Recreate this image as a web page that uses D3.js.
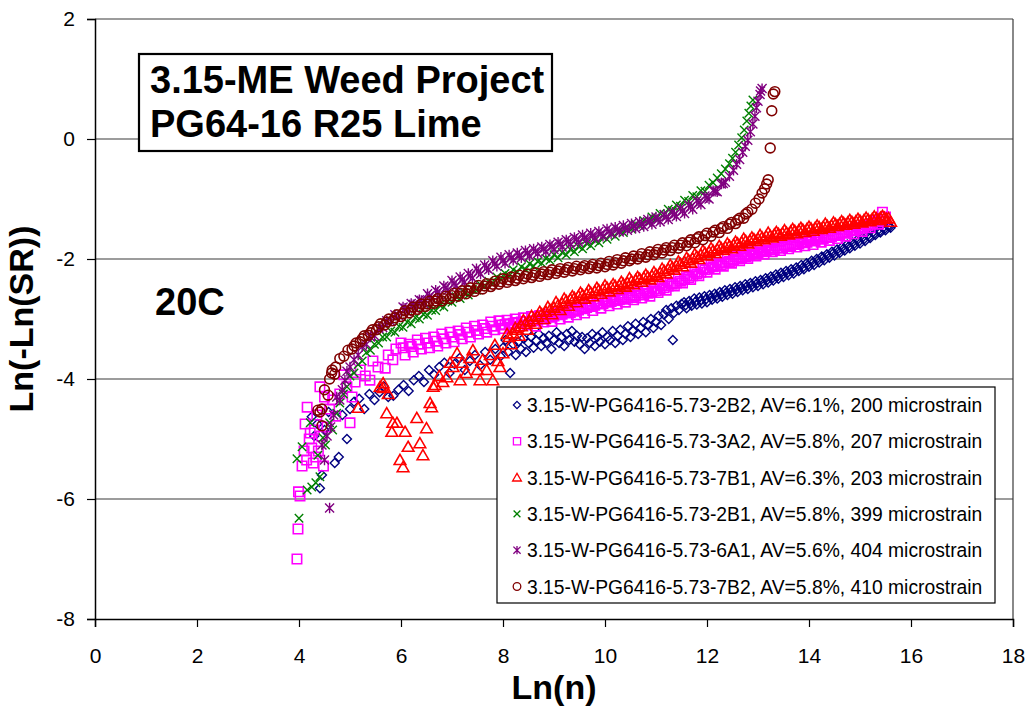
<!DOCTYPE html>
<html><head><meta charset="utf-8">
<script src="https://cdn.jsdelivr.net/npm/d3@7"></script>
<style>body{margin:0;background:#fff} text{font-family:Arial,"Liberation Sans",sans-serif;fill:#000}</style>
</head><body><svg id="c" width="1030" height="711"></svg>
<script>
const xTicks=[0,2,4,6,8,10,12,14,16,18];
const yTicks=[-8,-6,-4,-2,0,2];
const titleLines=["3.15-ME Weed Project","PG64-16 R25 Lime"];
const tempLabel="20C";
const xTitle="Ln(n)", yTitle="Ln(-Ln(SR))";
const seriesNames=[
"3.15-W-PG6416-5.73-2B2, AV=6.1%, 200 microstrain",
"3.15-W-PG6416-5.73-3A2, AV=5.8%, 207 microstrain",
"3.15-W-PG6416-5.73-7B1, AV=6.3%, 203 microstrain",
"3.15-W-PG6416-5.73-2B1, AV=5.8%, 399 microstrain",
"3.15-W-PG6416-5.73-6A1, AV=5.6%, 404 microstrain",
"3.15-W-PG6416-5.73-7B2, AV=5.8%, 410 microstrain"];

const s2B2=[[4.41,-5.82],[4.45,-5.6],[4.3,-4.95],[4.25,-4.63],[4.36,-4.75],[4.5,-4.85],[4.58,-4.55],[4.7,-5.4],[4.78,-5.3],[4.85,-4.6],[4.94,-5.0],[5.0,-4.5],[5.08,-4.38],[5.18,-4.33],[5.28,-4.5],[5.38,-4.25],[5.48,-4.35],[5.58,-4.22],[5.66,-4.12],[5.75,-4.3],[5.85,-4.28],[5.95,-4.18],[6.05,-4.1],[6.15,-4.2],[6.25,-4.02],[6.35,-3.95],[6.45,-4.05],[6.55,-3.85],[6.65,-3.93],[6.75,-3.8],[6.85,-3.73],[6.95,-3.9],[7.05,-3.75],[7.15,-3.65],[7.25,-3.85],[7.35,-3.7],[7.45,-3.6],[7.55,-3.77],[7.65,-3.55],[7.75,-3.68],[7.85,-3.5],[7.95,-3.62],
[8.0,-3.48],[8.05,-3.35],[8.1,-3.55],[8.14,-3.9],[8.2,-3.42],[8.25,-3.6],[8.3,-3.38],[8.35,-3.5],[8.4,-3.32],[8.45,-3.55],[8.5,-3.4],[8.55,-3.3],[8.6,-3.48],[8.65,-3.36],[8.7,-3.25],[8.75,-3.45],[8.8,-3.32],[8.85,-3.4],[8.9,-3.28],[8.95,-3.5],[9.0,-3.35],[9.05,-3.22],[9.1,-3.4],[9.15,-3.3],[9.2,-3.45],[9.25,-3.25],[9.3,-3.35],[9.35,-3.2],[9.4,-3.38],[9.45,-3.28],[9.5,-3.42],[9.55,-3.3],[9.6,-3.5],[9.65,-3.32],[9.7,-3.4],[9.75,-3.25],[9.8,-3.45],[9.85,-3.3],[9.9,-3.38],[9.95,-3.22],[10.0,-3.42],[10.05,-3.3],[10.1,-3.35],[10.15,-3.2],[10.2,-3.4],[10.25,-3.28],[10.3,-3.18],[10.35,-3.35],[10.4,-3.25],[10.45,-3.12],[10.5,-3.3],[10.55,-3.2],[10.6,-3.08],[10.65,-3.25],[10.7,-3.15],[10.75,-3.05],[10.8,-3.22],[10.85,-3.1],[10.9,-3.0],[10.95,-3.15],[11.0,-3.05],[11.05,-2.95],[11.1,-3.1],[11.15,-2.92],[11.2,-2.85],[11.25,-3.0],[11.33,-3.35],[11.3,-2.82],[11.35,-2.9],[11.4,-2.78],[11.45,-2.85],[11.5,-2.75],
[11.55,-2.72],[11.6,-2.82],[11.65,-2.7],[11.7,-2.78],[11.75,-2.66],[11.8,-2.76],[11.85,-2.64],[11.9,-2.74],[11.95,-2.62],[12.0,-2.72],[12.05,-2.6],[12.1,-2.68],[12.15,-2.58],[12.2,-2.66],[12.25,-2.55],[12.3,-2.63],[12.35,-2.52],[12.4,-2.6],[12.45,-2.5],[12.5,-2.58],[12.55,-2.47],[12.6,-2.55],[12.65,-2.45],[12.7,-2.52],[12.75,-2.42],[12.8,-2.5],[12.85,-2.4],[12.9,-2.47],[12.95,-2.37],[13.0,-2.45],[13.05,-2.35],[13.1,-2.42],[13.15,-2.32],[13.2,-2.39],[13.25,-2.29],[13.3,-2.36],[13.35,-2.26],[13.4,-2.33],[13.45,-2.23],[13.5,-2.3],[13.55,-2.2],[13.6,-2.27],[13.65,-2.17],[13.7,-2.24],[13.75,-2.14],[13.8,-2.2],[13.85,-2.1],[13.9,-2.17],[13.95,-2.07],[14.0,-2.13],[14.05,-2.03],[14.1,-2.1],[14.15,-2.0],[14.2,-2.06],[14.25,-1.96],[14.3,-2.02],[14.35,-1.92],[14.4,-1.98],[14.45,-1.88],[14.5,-1.94],[14.55,-1.84],[14.6,-1.9],[14.65,-1.8],[14.7,-1.86],[14.75,-1.76],[14.8,-1.82],[14.85,-1.72],[14.9,-1.78],[14.95,-1.68],[15.0,-1.74],[15.05,-1.64],[15.1,-1.7],[15.15,-1.6],[15.2,-1.65],[15.25,-1.56],[15.3,-1.6],[15.35,-1.52],[15.4,-1.56],[15.45,-1.48],[15.5,-1.52],[15.55,-1.45],[15.6,-1.48],
[11.58,-2.77],[11.68,-2.74],[11.78,-2.71],[11.88,-2.69],[11.98,-2.67],[12.08,-2.64],[12.18,-2.62],[12.28,-2.59],[12.38,-2.56],[12.48,-2.54],[12.58,-2.51],[12.68,-2.48],[12.78,-2.46],[12.88,-2.43],[12.98,-2.41],[13.08,-2.38],[13.18,-2.35],[13.28,-2.32],[13.38,-2.29],[13.48,-2.26],[13.58,-2.23],[13.68,-2.2],[13.78,-2.17],[13.88,-2.14],[13.98,-2.1],[14.08,-2.06],[14.18,-2.02],[14.28,-1.98],[14.38,-1.94],[14.48,-1.9],[14.58,-1.87],[14.68,-1.83],[14.78,-1.79],[14.88,-1.75],[14.98,-1.71],[15.08,-1.67],[15.18,-1.63],[15.28,-1.58],[15.38,-1.54],[15.48,-1.5],[15.58,-1.46]];

const s3A2=[[3.96,-7.0],[3.98,-6.5],[3.99,-5.88],[4.02,-5.95],[4.06,-5.45],[4.1,-5.2],[4.12,-4.75],[4.15,-5.35],[4.16,-4.47],[4.2,-5.0],[4.22,-4.9],[4.25,-5.15],[4.28,-5.4],[4.3,-4.85],[4.33,-5.3],[4.35,-4.6],[4.38,-5.2],[4.41,-4.13],[4.44,-4.95],[4.48,-5.45],[4.5,-4.3],[4.55,-4.8],[4.6,-4.5],[4.66,-4.35],[4.72,-4.62],[4.8,-4.25],[4.88,-3.93],[4.94,-4.13],[5.0,-4.73],[5.04,-4.3],[5.1,-4.05],[5.2,-3.85],[5.3,-3.95],[5.39,-4.02],[5.45,-3.7],[5.55,-3.8],[5.69,-3.82],[5.75,-3.6],[5.84,-3.68],[5.9,-3.5],
[6.0,-3.4],[6.08,-3.6],[6.16,-3.42],[6.24,-3.55],[6.32,-3.35],[6.4,-3.5],[6.48,-3.32],[6.56,-3.48],[6.64,-3.3],[6.72,-3.45],[6.8,-3.25],[6.88,-3.4],[6.96,-3.22],[7.04,-3.38],[7.12,-3.2],[7.2,-3.33],[7.28,-3.15],[7.36,-3.3],[7.44,-3.12],[7.52,-3.25],[7.6,-3.1],[7.68,-3.22],[7.76,-3.05],[7.84,-3.18],[7.92,-3.03],[8.0,-3.16],[8.08,-3.02],[8.16,-3.14],[8.24,-3.0],[8.32,-3.12],[8.4,-2.98],[8.48,-3.1],[8.56,-2.96],[8.64,-3.12],[8.72,-2.94],[8.8,-3.05],[8.88,-2.92],[8.96,-3.04],[9.04,-2.9],[9.12,-3.0],[9.2,-2.87],[9.28,-2.97],[9.36,-2.84],[9.44,-2.93],[9.52,-2.8],[9.6,-2.9],[9.68,-2.77],[9.76,-2.86],[9.84,-2.74],[9.92,-2.82],[10.0,-2.69],[10.08,-2.78],[10.16,-2.66],[10.24,-2.75],[10.32,-2.63],[10.4,-2.72],[10.48,-2.6],[10.56,-2.68],[10.64,-2.56],[10.72,-2.65],[10.8,-2.53],[10.88,-2.62],[10.96,-2.5],[11.04,-2.56],[11.12,-2.44],[11.2,-2.52],[11.28,-2.4],[11.36,-2.45],[11.44,-2.33],[11.52,-2.4],[11.6,-2.28],[11.68,-2.34],[11.76,-2.22],[11.84,-2.28],[11.92,-2.16],[12.0,-2.22],[12.08,-2.1],[12.16,-2.17],[12.24,-2.06],[12.32,-2.12],[12.4,-2.0],[12.48,-2.07],[12.56,-1.96],[12.64,-2.03],[12.72,-1.92],[12.8,-1.99],[12.88,-1.88],[12.96,-1.95],[13.04,-1.85],[13.12,-1.92],[13.2,-1.82],[13.28,-1.88],[13.36,-1.78],[13.44,-1.86],[13.52,-1.76],[13.6,-1.83],[13.68,-1.74],[13.76,-1.8],[13.84,-1.71],[13.92,-1.78],[14.0,-1.68],[14.08,-1.76],[14.16,-1.66],[14.24,-1.72],[14.32,-1.63],[14.4,-1.69],[14.48,-1.59],[14.56,-1.66],[14.64,-1.56],[14.72,-1.62],[14.8,-1.52],[14.88,-1.58],[14.96,-1.47],[15.04,-1.54],[15.12,-1.43],[15.2,-1.48],[15.28,-1.36],[15.36,-1.42],[15.44,-1.22],[15.5,-1.3],[15.47,-1.38],
[6.04,-3.48],[6.2,-3.46],[6.36,-3.42],[6.52,-3.4],[6.68,-3.37],[6.84,-3.33],[7.0,-3.3],[7.16,-3.26],[7.32,-3.22],[7.48,-3.19],[7.64,-3.16],[7.8,-3.12],[7.96,-3.1],[8.04,-3.09],[8.12,-3.08],[8.2,-3.07],[8.28,-3.06],[8.36,-3.05],[8.44,-3.04],[8.52,-3.04],[8.6,-3.03],[8.68,-3.02],[8.76,-3.0],[8.84,-2.99],[8.92,-2.97],[9.0,-2.95],[9.08,-2.93],[9.16,-2.92],[9.24,-2.9],[9.32,-2.89],[9.4,-2.87],[9.48,-2.85],[9.56,-2.83],[9.64,-2.81],[9.72,-2.79],[9.8,-2.77],[9.88,-2.75],[9.96,-2.74],[10.04,-2.72],[10.12,-2.71],[10.2,-2.69],[10.28,-2.68],[10.36,-2.67],[10.44,-2.65],[10.52,-2.64],[10.6,-2.62],[10.68,-2.6],[10.76,-2.59],[10.84,-2.57],[10.92,-2.55],[11.0,-2.53],[11.08,-2.5],[11.16,-2.48],[11.24,-2.45],[11.32,-2.42],[11.4,-2.4],[11.48,-2.37],[11.56,-2.34],[11.64,-2.31],[11.72,-2.28],[11.8,-2.25],[11.88,-2.22],[11.96,-2.18],[12.04,-2.15],[12.12,-2.13],[12.2,-2.11],[12.28,-2.09],[12.36,-2.06],[12.44,-2.04],[12.52,-2.02],[12.6,-2.0],[12.68,-1.98],[12.76,-1.96],[12.84,-1.94],[12.92,-1.92],[13.0,-1.9],[13.08,-1.88],[13.16,-1.87],[13.24,-1.85],[13.32,-1.84],[13.4,-1.82],[13.48,-1.81],[13.56,-1.79],[13.64,-1.78],[13.72,-1.76],[13.8,-1.75],[13.88,-1.73],[13.96,-1.72],[14.04,-1.7],[14.12,-1.69],[14.2,-1.67],[14.28,-1.66],[14.36,-1.64],[14.44,-1.63],[14.52,-1.61],[14.6,-1.59],[14.68,-1.57],[14.76,-1.55],[14.84,-1.53],[14.92,-1.51],[15.0,-1.5],[15.08,-1.47],[15.16,-1.44],[15.24,-1.41],[15.32,-1.38],[15.4,-1.34]];

const s7B1=[[5.16,-4.48],[5.59,-4.13],[5.65,-4.07],[5.65,-4.15],[5.72,-4.57],[5.75,-4.25],[5.82,-4.88],[5.84,-4.73],[5.92,-4.73],[5.98,-5.35],[6.04,-5.47],[6.08,-4.88],[6.14,-5.13],[6.31,-4.65],[6.37,-5.07],[6.43,-5.27],[6.5,-4.82],[6.57,-4.4],[6.6,-4.47],[6.63,-4.13],[6.67,-4.1],[6.75,-3.95],[6.82,-4.05],[6.9,-3.97],[6.96,-3.73],[7.02,-3.8],[7.1,-3.57],[7.16,-4.02],[7.2,-3.73],[7.28,-3.9],[7.35,-3.65],[7.41,-3.52],[7.5,-3.85],[7.55,-4.02],[7.6,-3.68],[7.68,-3.85],[7.75,-3.6],[7.8,-4.02],[7.84,-3.43],[7.9,-3.7],[7.94,-3.8],[8.0,-3.57],
[8.08,-3.25],[8.16,-3.42],[8.24,-3.15],[8.32,-3.28],[8.4,-3.02],[8.48,-3.18],[8.56,-2.95],[8.64,-3.08],[8.72,-2.88],[8.8,-3.0],[8.88,-2.8],[8.96,-2.92],[9.04,-2.72],[9.12,-2.85],[9.2,-2.66],[9.28,-2.78],[9.36,-2.62],[9.44,-2.72],[9.52,-2.56],[9.6,-2.66],[9.68,-2.52],[9.76,-2.62],[9.84,-2.48],[9.92,-2.58],[10.0,-2.44],[10.08,-2.54],[10.16,-2.42],[10.24,-2.5],[10.32,-2.38],[10.4,-2.46],[10.48,-2.32],[10.56,-2.42],[10.64,-2.3],[10.72,-2.38],[10.8,-2.26],[10.88,-2.34],[10.96,-2.22],[11.04,-2.3],[11.12,-2.16],[11.2,-2.24],[11.28,-2.1],[11.36,-2.18],[11.44,-2.04],[11.52,-2.12],[11.6,-1.98],[11.68,-2.06],[11.76,-1.92],[11.84,-2.0],[11.92,-1.86],[12.0,-1.94],[12.08,-1.82],[12.16,-1.9],[12.24,-1.78],[12.32,-1.85],[12.4,-1.74],[12.48,-1.82],[12.56,-1.71],[12.64,-1.78],[12.72,-1.66],[12.8,-1.74],[12.88,-1.64],[12.96,-1.7],[13.04,-1.6],[13.12,-1.67],[13.2,-1.56],[13.28,-1.64],[13.36,-1.55],[13.44,-1.61],[13.52,-1.52],[13.6,-1.59],[13.68,-1.5],[13.76,-1.57],[13.84,-1.48],[13.92,-1.55],[14.0,-1.46],[14.08,-1.53],[14.16,-1.44],[14.24,-1.5],[14.32,-1.41],[14.4,-1.48],[14.48,-1.39],[14.56,-1.45],[14.64,-1.37],[14.72,-1.43],[14.8,-1.35],[14.88,-1.41],[14.96,-1.33],[15.04,-1.39],[15.12,-1.31],[15.2,-1.37],[15.28,-1.29],[15.36,-1.35],[15.44,-1.28],[15.52,-1.33],[15.6,-1.38],
[8.12,-3.3],[8.2,-3.24],[8.28,-3.18],[8.36,-3.12],[8.44,-3.08],[8.52,-3.04],[8.6,-3.0],[8.68,-2.96],[8.76,-2.92],[8.84,-2.88],[8.92,-2.85],[9.0,-2.81],[9.08,-2.77],[9.16,-2.74],[9.24,-2.7],[9.32,-2.67],[9.4,-2.65],[9.48,-2.62],[9.56,-2.6],[9.64,-2.58],[9.72,-2.56],[9.8,-2.54],[9.88,-2.52],[9.96,-2.5],[10.04,-2.48],[10.12,-2.47],[10.2,-2.45],[10.28,-2.44],[10.36,-2.42],[10.44,-2.4],[10.52,-2.37],[10.6,-2.35],[10.68,-2.33],[10.76,-2.31],[10.84,-2.3],[10.92,-2.28],[11.0,-2.26],[11.08,-2.23],[11.16,-2.2],[11.24,-2.17],[11.32,-2.14],[11.4,-2.11],[11.48,-2.08],[11.56,-2.05],[11.64,-2.02],[11.72,-1.99],[11.8,-1.96],[11.88,-1.93],[11.96,-1.9],[12.04,-1.88],[12.12,-1.86],[12.2,-1.84],[12.28,-1.82],[12.36,-1.8],[12.44,-1.78],[12.52,-1.76],[12.6,-1.74],[12.68,-1.72],[12.76,-1.7],[12.84,-1.69],[12.92,-1.67],[13.0,-1.66],[13.08,-1.64],[13.16,-1.62],[13.24,-1.61],[13.32,-1.59],[13.4,-1.58],[13.48,-1.57],[13.56,-1.56],[13.64,-1.54],[13.72,-1.53],[13.8,-1.52],[13.88,-1.51],[13.96,-1.5],[14.04,-1.49],[14.12,-1.48],[14.2,-1.47],[14.28,-1.46],[14.36,-1.45],[14.44,-1.44],[14.52,-1.42],[14.6,-1.41],[14.68,-1.4],[14.76,-1.39],[14.84,-1.38],[14.92,-1.37],[15.0,-1.36],[15.08,-1.35],[15.16,-1.34],[15.24,-1.33],[15.32,-1.32],[15.4,-1.31],[15.48,-1.31],[15.56,-1.32]];

const s2B1=[[3.96,-5.33],[4.0,-6.32],[4.06,-5.13],[4.16,-5.85],[4.22,-4.73],[4.25,-5.8],[4.33,-5.73],[4.37,-5.27],[4.41,-5.63],[4.47,-4.98],[4.52,-5.1],[4.6,-4.73],[4.66,-4.85],[4.74,-4.57],[4.8,-4.4],[4.87,-4.25],[4.94,-4.13],
[5.0,-3.95],[5.08,-3.9],[5.16,-3.76],[5.24,-3.7],[5.32,-3.56],[5.4,-3.52],[5.48,-3.42],[5.56,-3.4],[5.64,-3.3],[5.72,-3.3],[5.8,-3.2],[5.88,-3.22],[5.96,-3.12],[6.04,-3.14],[6.12,-3.05],[6.2,-3.08],[6.28,-2.98],[6.36,-3.0],[6.44,-2.92],[6.52,-2.94],[6.6,-2.85],[6.68,-2.86],[6.76,-2.77],[6.84,-2.8],[6.92,-2.7],[7.0,-2.72],[7.08,-2.63],[7.16,-2.66],[7.24,-2.56],[7.32,-2.6],[7.4,-2.5],[7.48,-2.52],[7.56,-2.43],[7.64,-2.46],[7.72,-2.37],[7.8,-2.4],[7.88,-2.3],[7.96,-2.34],[8.04,-2.24],[8.12,-2.28],[8.2,-2.18],[8.28,-2.22],[8.36,-2.13],[8.44,-2.17],[8.52,-2.08],[8.6,-2.12],[8.68,-2.04],[8.76,-2.07],[8.84,-1.99],[8.92,-2.02],[9.0,-1.93],[9.08,-1.98],[9.16,-1.89],[9.24,-1.93],[9.32,-1.84],[9.4,-1.88],[9.48,-1.79],[9.56,-1.83],[9.64,-1.74],[9.72,-1.78],[9.8,-1.69],[9.88,-1.73],[9.96,-1.63],[10.04,-1.67],[10.12,-1.58],[10.2,-1.62],[10.28,-1.53],[10.36,-1.56],[10.44,-1.47],[10.52,-1.5],[10.6,-1.42],[10.68,-1.45],[10.76,-1.36],[10.84,-1.39],[10.92,-1.3],[11.0,-1.33],[11.08,-1.24],[11.16,-1.26],[11.24,-1.17],[11.32,-1.19],[11.4,-1.1],[11.48,-1.12],[11.56,-1.02],[11.64,-1.04],[11.72,-0.94],[11.8,-0.96],[11.88,-0.86],[11.96,-0.87],[12.04,-0.77],[12.12,-0.73],[12.2,-0.65],[12.28,-0.58],[12.36,-0.5],[12.44,-0.41],[12.5,-0.32],[12.56,-0.22],[12.62,-0.1],[12.68,0.02],[12.73,0.15],[12.78,0.3],[12.82,0.43],[12.86,0.55],[12.9,0.65]];

const s6A1=[[4.6,-6.15],[4.5,-5.35],[4.45,-5.1],[4.55,-4.95],[4.62,-4.8],[4.68,-4.6],[4.74,-4.3],[4.8,-4.35],[4.85,-4.18],[4.9,-4.02],[4.94,-3.87],
[5.0,-3.8],[5.08,-3.68],[5.16,-3.6],[5.24,-3.46],[5.32,-3.42],[5.4,-3.3],[5.48,-3.28],[5.56,-3.16],[5.64,-3.14],[5.72,-3.03],[5.8,-3.04],[5.88,-2.93],[5.96,-2.95],[6.04,-2.8],[6.12,-2.88],[6.2,-2.74],[6.28,-2.82],[6.36,-2.68],[6.44,-2.74],[6.52,-2.58],[6.6,-2.66],[6.68,-2.52],[6.76,-2.6],[6.84,-2.45],[6.92,-2.52],[7.0,-2.36],[7.08,-2.45],[7.16,-2.3],[7.24,-2.39],[7.32,-2.24],[7.4,-2.32],[7.48,-2.16],[7.56,-2.25],[7.64,-2.1],[7.72,-2.18],[7.8,-2.03],[7.88,-2.12],[7.96,-1.97],[8.04,-2.07],[8.12,-1.93],[8.2,-2.02],[8.28,-1.9],[8.36,-1.98],[8.44,-1.86],[8.52,-1.95],[8.6,-1.83],[8.68,-1.91],[8.76,-1.8],[8.84,-1.88],[8.92,-1.76],[9.0,-1.84],[9.08,-1.72],[9.16,-1.8],[9.24,-1.68],[9.32,-1.76],[9.4,-1.64],[9.48,-1.72],[9.56,-1.6],[9.64,-1.68],[9.72,-1.57],[9.8,-1.65],[9.88,-1.54],[9.96,-1.62],[10.04,-1.5],[10.12,-1.58],[10.2,-1.47],[10.28,-1.55],[10.36,-1.44],[10.44,-1.52],[10.52,-1.41],[10.6,-1.49],[10.68,-1.38],[10.76,-1.46],[10.84,-1.34],[10.92,-1.42],[11.0,-1.3],[11.08,-1.38],[11.16,-1.26],[11.24,-1.34],[11.32,-1.22],[11.4,-1.29],[11.48,-1.16],[11.56,-1.24],[11.64,-1.1],[11.72,-1.17],[11.8,-1.03],[11.88,-1.09],[11.96,-0.95],[12.04,-1.0],[12.12,-0.86],[12.2,-0.88],[12.28,-0.75],[12.36,-0.72],[12.44,-0.62],[12.52,-0.52],[12.58,-0.42],[12.64,-0.34],[12.7,-0.22],[12.75,-0.12],[12.8,-0.02],[12.85,0.12],[12.9,0.25],[12.94,0.38],[12.97,0.52],[13.0,0.63],[13.04,0.74],[13.08,0.84],[13.05,0.8],
[6.08,-2.82],[6.24,-2.76],[6.4,-2.69],[6.56,-2.62],[6.72,-2.55],[6.88,-2.48],[7.04,-2.41],[7.2,-2.34],[7.36,-2.28],[7.52,-2.21],[7.68,-2.15],[7.84,-2.08],[8.0,-2.03],[8.16,-1.98],[8.32,-1.94],[8.48,-1.9],[8.64,-1.87],[8.8,-1.83],[8.96,-1.79],[9.12,-1.75],[9.28,-1.71],[9.44,-1.67],[9.6,-1.64],[9.76,-1.61],[9.92,-1.58],[10.08,-1.54],[10.24,-1.51],[10.4,-1.48],[10.56,-1.45],[10.72,-1.42],[10.88,-1.38],[11.04,-1.34],[11.2,-1.3],[11.36,-1.26],[11.52,-1.2],[11.68,-1.13],[11.84,-1.06],[12.0,-0.98],[12.16,-0.87],[12.32,-0.74]];

const s7B2=[[4.37,-4.52],[4.41,-4.55],[4.45,-4.78],[4.45,-4.5],[4.5,-4.18],[4.57,-4.27],[4.6,-4.0],[4.65,-3.85],[4.7,-3.92],
[4.64,-3.9],[4.72,-3.8],[4.8,-3.66],[4.88,-3.62],[4.96,-3.52],[5.04,-3.5],[5.12,-3.4],[5.2,-3.38],[5.28,-3.28],[5.36,-3.27],[5.44,-3.18],[5.52,-3.18],[5.6,-3.08],[5.68,-3.1],[5.76,-3.0],[5.84,-3.03],[5.92,-2.93],[6.0,-2.96],[6.08,-2.86],[6.16,-2.9],[6.24,-2.8],[6.32,-2.84],[6.4,-2.75],[6.48,-2.79],[6.56,-2.7],[6.64,-2.74],[6.72,-2.66],[6.8,-2.7],[6.88,-2.62],[6.96,-2.66],[7.04,-2.57],[7.12,-2.62],[7.2,-2.53],[7.28,-2.58],[7.36,-2.48],[7.44,-2.54],[7.52,-2.44],[7.6,-2.5],[7.68,-2.41],[7.76,-2.46],[7.84,-2.37],[7.92,-2.42],[8.0,-2.33],[8.08,-2.39],[8.16,-2.3],[8.24,-2.36],[8.32,-2.27],[8.4,-2.33],[8.48,-2.25],[8.56,-2.31],[8.64,-2.23],[8.72,-2.29],[8.8,-2.21],[8.88,-2.26],[8.96,-2.18],[9.04,-2.24],[9.12,-2.16],[9.2,-2.22],[9.28,-2.14],[9.36,-2.2],[9.44,-2.12],[9.52,-2.18],[9.6,-2.11],[9.68,-2.16],[9.76,-2.09],[9.84,-2.15],[9.92,-2.07],[10.0,-2.13],[10.08,-2.04],[10.16,-2.1],[10.24,-2.01],[10.32,-2.07],[10.4,-1.98],[10.48,-2.03],[10.56,-1.95],[10.64,-2.0],[10.72,-1.91],[10.8,-1.97],[10.88,-1.88],[10.96,-1.93],[11.04,-1.84],[11.12,-1.9],[11.2,-1.81],[11.28,-1.86],[11.36,-1.77],[11.44,-1.82],[11.52,-1.73],[11.6,-1.78],[11.68,-1.68],[11.76,-1.73],[11.84,-1.63],[11.92,-1.68],[12.0,-1.57],[12.08,-1.62],[12.16,-1.52],[12.24,-1.56],[12.32,-1.46],[12.4,-1.49],[12.48,-1.39],[12.56,-1.41],[12.64,-1.32],[12.72,-1.32],[12.8,-1.22],[12.88,-1.17],[12.95,-1.07],[13.02,-1.0],[13.08,-0.9],[13.13,-0.83],[13.17,-0.75],[13.2,-0.68],[13.24,-0.15],[13.27,0.47],[13.3,0.75],[13.33,0.79],
[5.08,-3.45],[5.24,-3.33],[5.4,-3.23],[5.56,-3.13],[5.72,-3.05],[5.88,-2.98],[6.04,-2.91],[6.2,-2.85],[6.36,-2.8],[6.52,-2.75],[6.68,-2.7],[6.84,-2.66],[7.0,-2.61],[7.16,-2.57],[7.32,-2.53],[7.48,-2.49],[7.64,-2.45],[7.8,-2.42],[7.96,-2.38],[8.12,-2.35],[8.28,-2.32],[8.44,-2.29],[8.6,-2.27],[8.76,-2.25],[8.92,-2.22],[9.08,-2.2],[9.24,-2.18],[9.4,-2.16],[9.56,-2.14],[9.72,-2.13],[9.88,-2.11],[10.04,-2.09],[10.2,-2.06],[10.36,-2.03],[10.52,-2.0],[10.68,-1.96],[10.84,-1.93],[11.0,-1.89],[11.16,-1.85],[11.32,-1.81],[11.48,-1.77],[11.64,-1.72],[11.8,-1.66],[11.96,-1.61],[12.12,-1.55],[12.28,-1.49],[12.44,-1.42],[12.6,-1.35],[12.76,-1.25]];

const seriesData=[s2B2,s3A2,s7B1,s2B1,s6A1,s7B2];
const seriesColors=["#000080","#FF00FF","#FF0000","#008000","#800080","#800000"];
const seriesShapes=["diamond","square","triangle","x","star","circle"];

const svg=d3.select("#c");
const x=d3.scaleLinear().domain([0,18]).range([95,1013]);
const y=d3.scaleLinear().domain([-8,2]).range([619,19]);

function shape(t,r){
  switch(t){
    case "diamond": return `M0,${-r}L${r},0L0,${r}L${-r},0Z`;
    case "square": return `M${-r},${-r}H${r}V${r}H${-r}Z`;
    case "triangle": return `M0,${-r*1.05}L${r*1.1},${r*0.85}L${-r*1.1},${r*0.85}Z`;
    case "x": return `M${-r},${-r}L${r},${r}M${-r},${r}L${r},${-r}`;
    case "star": return `M${-r},${-r}L${r},${r}M${-r},${r}L${r},${-r}M0,${-r*1.15}L0,${r*1.15}`;
    case "circle": return `M${-r},0A${r},${r} 0 1,0 ${r},0A${r},${r} 0 1,0 ${-r},0Z`;
  }
}
const plotR=[4.5,4.7,5.3,4.2,4.5,4.9];
const plotW=[1.4,1.6,1.6,1.4,1.4,1.6];

svg.append("g").selectAll("line").data(yTicks.filter(v=>v>-8)).join("line")
  .attr("x1",x(0)).attr("x2",x(18)).attr("y1",d=>y(d)).attr("y2",d=>y(d))
  .attr("stroke","#3a3a3a").attr("stroke-width",1.2);
svg.append("line").attr("x1",x(18)).attr("x2",x(18)).attr("y1",y(2)).attr("y2",y(-8)).attr("stroke","#3a3a3a").attr("stroke-width",1.2);

const xAxis=d3.axisBottom(x).tickValues(xTicks).tickSize(8).tickPadding(21).tickFormat(d=>String(d));
const yAxis=d3.axisLeft(y).tickValues(yTicks).tickSize(8).tickPadding(12).tickFormat(d=>String(d));
const gx=svg.append("g").attr("transform",`translate(0,${y(-8)})`).call(xAxis);
const gy=svg.append("g").attr("transform",`translate(${x(0)},0)`).call(yAxis);
[gx,gy].forEach(g=>{
  g.select(".domain").attr("stroke","#000").attr("stroke-width",1.5);
  g.selectAll(".tick line").attr("stroke","#000").attr("stroke-width",1.2);
  g.selectAll(".tick text").attr("font-size",21).attr("font-family","Arial, 'Liberation Sans', sans-serif").attr("fill","#000");
});

seriesData.forEach((data,i)=>{
  svg.append("g").selectAll("path").data(data).join("path")
    .attr("transform",d=>`translate(${x(d[0])},${y(d[1])})`)
    .attr("d",shape(seriesShapes[i],plotR[i]))
    .attr("fill","none").attr("stroke",seriesColors[i]).attr("stroke-width",plotW[i]);
});

svg.append("rect").attr("x",139).attr("y",54).attr("width",413).attr("height",97).attr("fill","#fff").attr("stroke","#000").attr("stroke-width",2.2);
svg.append("g").selectAll("text").data(titleLines).join("text")
  .attr("x",150).attr("y",(d,i)=>93+i*44).attr("font-size",38).attr("font-weight","bold").text(d=>d);
svg.append("text").attr("x",155).attr("y",315).attr("font-size",38).attr("font-weight","bold").text(tempLabel);

svg.append("text").attr("x",554).attr("y",699).attr("text-anchor","middle").attr("font-size",34).attr("font-weight","bold").text(xTitle);
svg.append("text").attr("transform","translate(33,319) rotate(-90)").attr("text-anchor","middle").attr("font-size",34).attr("font-weight","bold").text(yTitle);

const lg=svg.append("g");
lg.append("rect").attr("x",497).attr("y",387).attr("width",498).attr("height",216).attr("fill","#fff").attr("stroke","#000").attr("stroke-width",1.2);
const rows=lg.selectAll("g.row").data(seriesNames).join("g").attr("class","row")
  .attr("transform",(d,i)=>`translate(0,${405+i*36.3})`);
rows.append("path").attr("transform","translate(517,0)")
  .attr("d",(d,i)=>shape(seriesShapes[i],[3.6,3.6,4,3.4,3.6,3.8][i]))
  .attr("fill","none").attr("stroke",(d,i)=>seriesColors[i]).attr("stroke-width",1.3);
rows.append("text").attr("x",527).attr("y",7).attr("font-size",19.3).text(d=>d);
</script></body></html>
